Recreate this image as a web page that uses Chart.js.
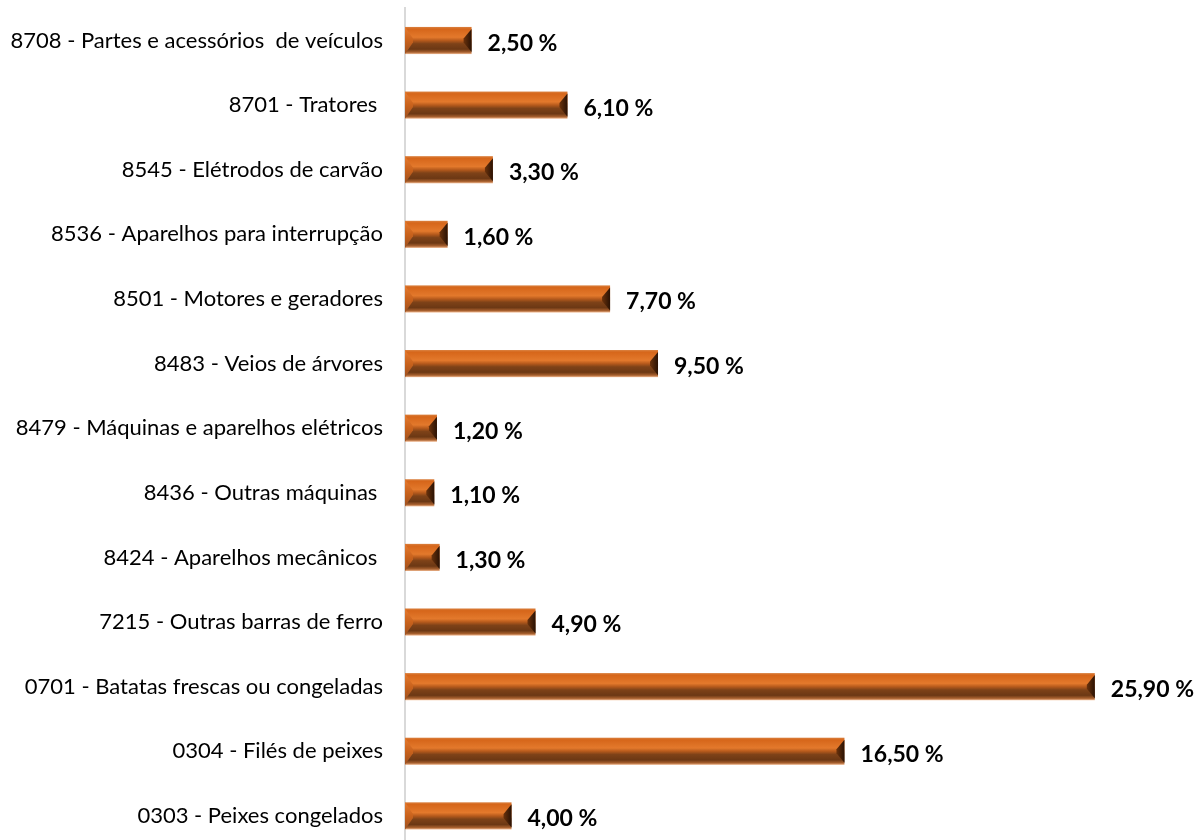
<!DOCTYPE html>
<html>
<head>
<meta charset="utf-8">
<script src="https://cdn.jsdelivr.net/npm/chart.js@4"></script>
<style>
  html, body { margin: 0; padding: 0; background: #fff; overflow: hidden; }
  #wrap { position: relative; width: 1204px; height: 848px; }
</style>
</head>
<body>
<div id="wrap"><canvas id="chart"></canvas></div>
<script>
// DATA
const categories = [
  "8708 - Partes e acessórios  de veículos",
  "8701 - Tratores ",
  "8545 - Elétrodos de carvão",
  "8536 - Aparelhos para interrupção",
  "8501 - Motores e geradores",
  "8483 - Veios de árvores",
  "8479 - Máquinas e aparelhos elétricos",
  "8436 - Outras máquinas ",
  "8424 - Aparelhos mecânicos ",
  "7215 - Outras barras de ferro",
  "0701 - Batatas frescas ou congeladas",
  "0304 - Filés de peixes",
  "0303 - Peixes congelados"
];
const shares = [2.5, 6.1, 3.3, 1.6, 7.7, 9.5, 1.2, 1.1, 1.3, 4.9, 25.9, 16.5, 4.0];

const FONT = "Lato, 'Open Sans', sans-serif";

// BEVEL BARS + VALUE LABELS
const bevelPlugin = {
  id: "bevel",
  afterDatasetsDraw(chart) {
    const ctx = chart.ctx;
    const meta = chart.getDatasetMeta(0);
    meta.data.forEach((bar, i) => {
      const x0 = bar.base, x1 = bar.x;
      const h = bar.height;
      const y0 = bar.y - h / 2, y1 = bar.y + h / 2;
      const b = Math.min(8, (x1 - x0) / 2);
      const bv = 2;
      ctx.save();
      // face
      const g = ctx.createLinearGradient(0, y0, 0, y1);
      g.addColorStop(0, "#d9803f");
      g.addColorStop(0.08, "#d6661a");
      g.addColorStop(0.38, "#e3792c");
      g.addColorStop(0.5, "#b65a1c");
      g.addColorStop(0.62, "#7e4218");
      g.addColorStop(0.82, "#6c3814");
      g.addColorStop(0.93, "#a8602e");
      g.addColorStop(1, "#f0b890");
      ctx.fillStyle = g;
      ctx.fillRect(x0, y0, x1 - x0, h);
      // left bevel
      const gl = ctx.createLinearGradient(0, y0, 0, y1);
      gl.addColorStop(0, "#e57c32");
      gl.addColorStop(0.5, "#c9621c");
      gl.addColorStop(1, "#9c5020");
      ctx.fillStyle = gl;
      ctx.beginPath();
      ctx.moveTo(x0, y0); ctx.lineTo(x0 + b, y0 + h / 2 - 2);
      ctx.lineTo(x0 + b, y0 + h / 2 + 2); ctx.lineTo(x0, y1);
      ctx.closePath(); ctx.fill();
      // right bevel
      const gr = ctx.createLinearGradient(x1 - b, 0, x1, 0);
      gr.addColorStop(0, "#6a320c");
      gr.addColorStop(1, "#2a1204");
      ctx.fillStyle = gr;
      ctx.beginPath();
      ctx.moveTo(x1, y0 + bv); ctx.lineTo(x1 - b, y0 + h / 2 - 2);
      ctx.lineTo(x1 - b, y0 + h / 2 + 2); ctx.lineTo(x1, y1 - bv);
      ctx.closePath(); ctx.fill();
      // value label
      ctx.fillStyle = "#000";
      ctx.font = "bold 23px " + FONT;
      ctx.textAlign = "left";
      ctx.textBaseline = "middle";
      ctx.fillText(shares[i].toFixed(2).replace(".", ",") + " %", x1 + 16, bar.y + 3);
      ctx.restore();
    });
  }
};

// CHART
const chart = new Chart(document.getElementById("chart"), {
  type: "bar",
  data: {
    labels: categories,
    datasets: [{
      data: shares,
      backgroundColor: "rgba(0,0,0,0)",
      borderWidth: 0,
      categoryPercentage: 1,
      barPercentage: 0.42
    }]
  },
  options: {
    indexAxis: "y",
    responsive: true,
    maintainAspectRatio: false,
    animation: false,
    layout: { padding: 0 },
    plugins: {
      legend: { display: false },
      tooltip: { enabled: false }
    },
    scales: {
      x: { display: false, min: 0, max: 30 },
      y: {
        grid: { display: false },
        border: { display: true, color: "#d9d9d9", width: 2 },
        ticks: { color: "#000", padding: 14, font: { family: FONT, size: 22 } },
        afterFit(scale) { scale.width = 405; }
      }
    }
  },
  plugins: [bevelPlugin]
});

// place the plot area at y 8..848 of the page
const area = chart.chartArea;
const padTop = area.top;
const padBottom = chart.height - area.bottom;
const wrap = document.getElementById("wrap");
wrap.style.top = (8 - padTop) + "px";
wrap.style.height = (840 + padTop + padBottom) + "px";
chart.resize();
</script>
</body>
</html>
